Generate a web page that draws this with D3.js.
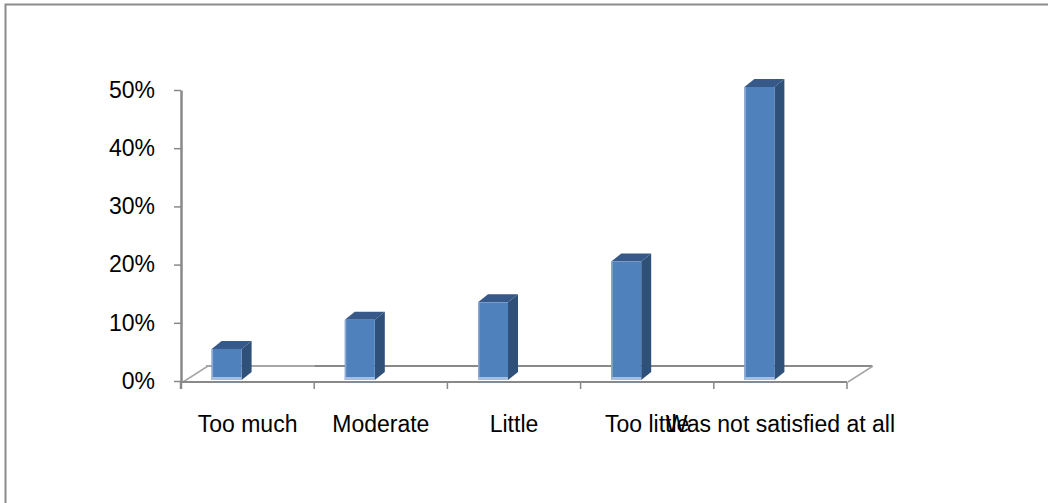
<!DOCTYPE html>
<html>
<head>
<meta charset="utf-8">
<script src="https://cdn.jsdelivr.net/npm/d3@7"></script>
<style>
    html, body { margin: 0; padding: 0; background: #fff; }
    svg { display: block; font-family: Carlito, 'Liberation Sans', Arial, sans-serif; }
    .axis text { font-size: 23px; fill: #000; }
</style>
</head>
<body>
<svg id="chart"></svg>
<script>
const categories = ['Too much', 'Moderate', 'Little', 'Too little', 'Was not satisfied at all'];
const shares = [0.05, 0.10, 0.13, 0.20, 0.50];
const yTicks = [0, 0.1, 0.2, 0.3, 0.4, 0.5];

const width = 1048, height = 503;
const plotLeft = 181, plotRight = 847, floorY = 382;
const depthX = 25, depthY = -16;
const barW = 30, barDx = 10, barDy = -8;

const svg = d3.select('#chart').attr('width', width).attr('height', height);

// Outer frame (runs off the right and bottom edges).
svg.append('rect')
    .attr('x', 5.5).attr('y', 4.5)
    .attr('width', 1100).attr('height', 600)
    .attr('fill', 'none').attr('stroke', '#8c8c8c').attr('stroke-width', 2);

// Scales.
const x = d3.scaleBand().domain(categories).range([plotLeft, plotRight]).padding(0);
const y = d3.scaleLinear().domain([0, 0.5]).range([381, 90]);

// Floor of the 3D plot area.
const floor = svg.append('g').attr('stroke-width', 2).attr('fill', 'none');
floor.append('line')
    .attr('x1', plotLeft + depthX).attr('x2', x(categories[1]))
    .attr('y1', floorY + depthY).attr('y2', floorY + depthY)
    .attr('stroke', '#a6a6a6');
floor.append('line')
    .attr('x1', x(categories[1])).attr('x2', plotRight + depthX)
    .attr('y1', floorY + depthY).attr('y2', floorY + depthY)
    .attr('stroke', '#898989');
[plotLeft + 2, plotRight + 1].forEach(px => {
    floor.append('line')
        .attr('x1', px).attr('y1', floorY)
        .attr('x2', px + depthX).attr('y2', floorY + depthY)
        .attr('stroke', '#a6a6a6').attr('stroke-width', 1.5);
});
floor.append('line')
    .attr('x1', plotLeft).attr('x2', plotRight)
    .attr('y1', floorY).attr('y2', floorY)
    .attr('stroke', '#898989');

// Category boundary ticks.
const edges = categories.map(c => x(c)).concat([plotRight]);
svg.append('g').selectAll('line').data(edges).enter().append('line')
    .attr('x1', d => d).attr('x2', d => d)
    .attr('y1', floorY).attr('y2', floorY + 7)
    .attr('stroke', '#898989').attr('stroke-width', 1.5);

// Y axis.
const yAxis = svg.append('g')
    .attr('class', 'axis')
    .attr('transform', `translate(${plotLeft}, 0)`)
    .call(d3.axisLeft(y).tickValues(yTicks).tickFormat(d3.format('.0%')).tickSize(7).tickPadding(19).tickSizeOuter(0));
yAxis.select('.domain').attr('stroke', '#898989').attr('stroke-width', 2.5);
yAxis.selectAll('.tick line').attr('stroke', '#898989').attr('stroke-width', 1.5);
yAxis.append('line').attr('x1', 0).attr('x2', 0).attr('y1', 381).attr('y2', floorY + 7)
    .attr('stroke', '#898989').attr('stroke-width', 2.5);

// X axis labels.
const xAxis = svg.append('g')
    .attr('class', 'axis')
    .attr('transform', `translate(0, ${floorY})`)
    .call(d3.axisBottom(x).tickSize(0).tickPadding(34));
xAxis.select('.domain').remove();

// 3D bars.
const bars = svg.append('g').selectAll('g').data(categories).enter().append('g');
const barLeft = c => x(c) + x.bandwidth() / 2 - 36;
const barTop = (c, i) => y(shares[i]) - 3;
const base = 380;

bars.append('path')
    .attr('fill', '#36598a')
    .attr('d', (c, i) => {
        const a = barLeft(c), t = barTop(c, i);
        return `M${a},${t} L${a + barDx},${t + barDy} L${a + barW + barDx},${t + barDy} L${a + barW},${t} Z`;
    });
bars.append('path')
    .attr('fill', '#2f5079')
    .attr('d', (c, i) => {
        const r = barLeft(c) + barW, t = barTop(c, i);
        return `M${r},${t} L${r + barDx},${t + barDy} L${r + barDx},${base + barDy} L${r},${base} Z`;
    });
bars.append('rect')
    .attr('fill', '#4f81bd')
    .attr('x', c => barLeft(c))
    .attr('y', (c, i) => barTop(c, i))
    .attr('width', barW)
    .attr('height', (c, i) => base - barTop(c, i));
bars.append('rect')
    .attr('fill', '#8fa9d2')
    .attr('x', c => barLeft(c))
    .attr('y', (c, i) => barTop(c, i))
    .attr('width', 1.5)
    .attr('height', (c, i) => base - barTop(c, i));
bars.append('rect')
    .attr('fill', '#a7bedc')
    .attr('x', c => barLeft(c))
    .attr('y', base - 3)
    .attr('width', barW)
    .attr('height', 3);
</script>
</body>
</html>
